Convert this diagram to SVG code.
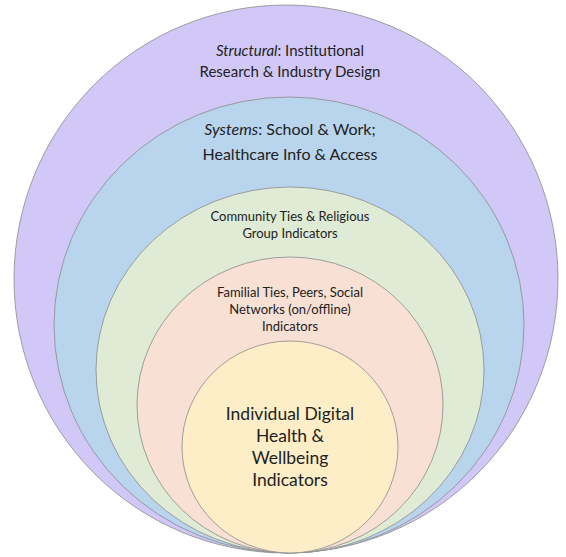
<svg xmlns="http://www.w3.org/2000/svg" width="566" height="557" viewBox="0 0 566 557">
<style>
.ring{stroke:#8a8a8a;stroke-width:0.8}
.t{font-family:Lato,"Open Sans","Liberation Sans",sans-serif;fill:#222;text-anchor:middle}
.big{font-size:16px}
.str{font-size:15px}
.mid{font-size:13px}
.core{font-size:17.5px}
</style>
<rect width="566" height="557" fill="#ffffff"/>
<g id="structural">
<ellipse class="ring" cx="286" cy="279" rx="272" ry="274" fill="#d2c8f8"/>
<text class="t str" x="290" y="56"><tspan font-style="italic">Structural</tspan>: Institutional</text>
<text class="t str" x="290" y="77">Research &amp; Industry Design</text>
</g>
<g id="systems">
<ellipse class="ring" cx="289" cy="325" rx="235" ry="228" fill="#b9d4ed"/>
<text class="t big" x="290" y="135"><tspan font-style="italic">Systems</tspan>: School &amp; Work;</text>
<text class="t big" x="290" y="160">Healthcare Info &amp; Access</text>
</g>
<g id="community">
<ellipse class="ring" cx="290" cy="370" rx="194" ry="183" fill="#dfebd5"/>
<text class="t mid" x="290" y="221">Community Ties &amp; Religious</text>
<text class="t mid" x="290" y="238">Group Indicators</text>
</g>
<g id="familial">
<ellipse class="ring" cx="290" cy="405" rx="153" ry="148" fill="#f9e0d4"/>
<text class="t mid" x="290" y="297">Familial Ties, Peers, Social</text>
<text class="t mid" x="290" y="314">Networks (on/offline)</text>
<text class="t mid" x="290" y="331">Indicators</text>
</g>
<g id="individual">
<ellipse class="ring" cx="290" cy="447" rx="108" ry="106" fill="#fdeec8"/>
<text class="t core" x="290" y="420">Individual Digital</text>
<text class="t core" x="290" y="442">Health &amp;</text>
<text class="t core" x="290" y="464">Wellbeing</text>
<text class="t core" x="290" y="486">Indicators</text>
</g>
<g id="connectors"></g>
</svg>
